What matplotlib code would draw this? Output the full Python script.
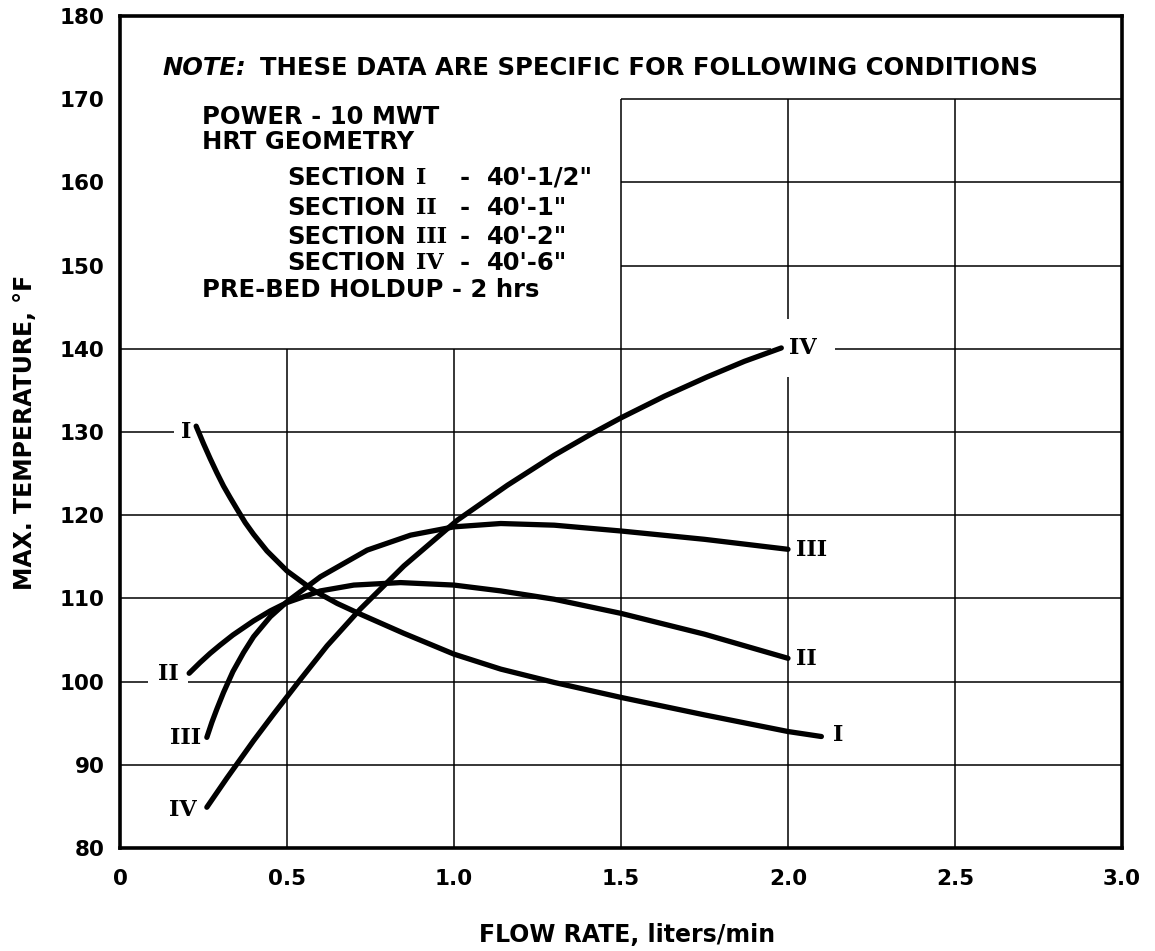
import matplotlib.pyplot as plt

# Max. temperature (deg F) vs flow rate (liters/min) for each bed section
flow_I = [0.228, 0.25, 0.27, 0.29, 0.31, 0.33, 0.35, 0.375, 0.40, 0.44, 0.50, 0.578, 0.65, 0.72,
          0.85, 1.00, 1.14, 1.30, 1.50, 1.75, 2.00, 2.10]
temp_I = [130.7, 128.6, 126.8, 125.1, 123.5, 122.1, 120.75, 119.1, 117.7, 115.7, 113.3, 111.0,
          109.4, 108.1, 105.8, 103.3, 101.5, 99.9, 98.1, 96.0, 94.0, 93.4]

flow_II = [0.207, 0.24, 0.27, 0.30, 0.338, 0.40, 0.45, 0.50, 0.60, 0.70, 0.84, 1.00, 1.14, 1.30,
           1.50, 1.75, 2.00]
temp_II = [101.0, 102.3, 103.4, 104.4, 105.6, 107.3, 108.5, 109.5, 110.9, 111.6, 111.9, 111.6,
           110.9, 109.9, 108.2, 105.7, 102.8]

flow_III = [0.26, 0.275, 0.29, 0.31, 0.338, 0.37, 0.40, 0.45, 0.50, 0.60, 0.74, 0.87, 1.00, 1.14,
            1.30, 1.50, 1.75, 2.00]
temp_III = [93.3, 95.1, 96.7, 98.7, 101.2, 103.5, 105.4, 107.8, 109.6, 112.6, 115.8, 117.6,
            118.6, 119.0, 118.8, 118.1, 117.1, 115.9]

flow_IV = [0.26, 0.32, 0.40, 0.46, 0.539, 0.62, 0.719, 0.85, 1.01, 1.16, 1.30, 1.417, 1.50, 1.63,
           1.757, 1.87, 1.98]
temp_IV = [84.9, 88.4, 92.9, 96.1, 100.2, 104.3, 108.7, 113.9, 119.4, 123.6, 127.2, 129.9, 131.7,
           134.3, 136.6, 138.5, 140.1]

x_ticks = [0, 0.5, 1.0, 1.5, 2.0, 2.5, 3.0]
x_tick_labels = ['0', '0.5', '1.0', '1.5', '2.0', '2.5', '3.0']
y_ticks = list(range(80, 190, 10))

# curve tags: (text, x, y, bbox pad)
tags = [
    ('I', 0.198, 130.0, 5),
    ('II', 0.144, 100.9, 7),
    ('III', 0.195, 93.2, 3),
    ('IV', 0.189, 84.6, 3),
    ('IV', 2.045, 140.1, 13),
    ('III', 2.07, 115.8, 3),
    ('II', 2.056, 102.7, 3),
    ('I', 2.15, 93.6, 3),
]

ROMAN = dict(family='DejaVu Serif', weight='bold', fontsize=16)
LETTER = dict(family='DejaVu Sans', weight='bold')

fig = plt.figure(figsize=(11.55, 9.51), dpi=100)
ax = fig.add_axes([0.1039, 0.1083, 0.8675, 0.8749])
ax.set_xlim(0, 3.0)
ax.set_ylim(80, 180)

# grid, left clear where the note sits
grid_kw = dict(color='black', lw=1.1, zorder=1)
ax.vlines([0.5, 1.0], 80, 140, **grid_kw)
ax.vlines([1.5, 2.0, 2.5], 80, 170, **grid_kw)
ax.hlines(range(90, 150, 10), 0, 3.0, **grid_kw)
ax.hlines([150, 160, 170], 1.5, 3.0, **grid_kw)

for fl, tp in [(flow_I, temp_I), (flow_II, temp_II), (flow_III, temp_III), (flow_IV, temp_IV)]:
    ax.plot(fl, tp, color='black', lw=3.8, solid_capstyle='round',
            solid_joinstyle='round', zorder=3)

for txt, x, y, pad in tags:
    ax.text(x, y, txt, ha='center', va='center', zorder=2,
            bbox=dict(facecolor='white', edgecolor='none', pad=pad), **ROMAN)

for s in ax.spines.values():
    s.set_linewidth(2.6)

ax.set_xticks(x_ticks)
ax.set_xticklabels(x_tick_labels)
ax.set_yticks(y_ticks)
ax.tick_params(length=0, labelsize=15.5)
ax.tick_params(axis='x', pad=15)
ax.tick_params(axis='y', pad=11)
for lbl in ax.get_xticklabels() + ax.get_yticklabels():
    lbl.set_fontweight('bold')

ax.set_xlabel('FLOW RATE, liters/min', fontsize=17, va='center', **LETTER)
ax.xaxis.set_label_coords(0.506, -0.1046)
ax.set_ylabel('MAX. TEMPERATURE, °F', fontsize=17, va='center', **LETTER)
ax.yaxis.set_label_coords(-0.0948, 0.5)

# note block
note_fs = 17.5
ax.text(0.126, 173.75, 'NOTE:', style='italic', fontsize=note_fs, va='center', **LETTER)
ax.text(0.419, 173.75, 'THESE DATA ARE SPECIFIC FOR FOLLOWING CONDITIONS',
        fontsize=note_fs, va='center', **LETTER)
ax.text(0.2455, 167.86, 'POWER - 10 MWT', fontsize=note_fs, va='center', **LETTER)
ax.text(0.2455, 164.83, 'HRT GEOMETRY', fontsize=note_fs, va='center', **LETTER)

sections = [('I', '40\'-1/2"', 160.53), ('II', '40\'-1"', 156.92),
            ('III', '40\'-2"', 153.44), ('IV', '40\'-6"', 150.31)]
for num, size, y in sections:
    ax.text(0.5, y, 'SECTION', fontsize=note_fs, va='center', **LETTER)
    ax.text(0.886, y, num, ha='left', va='center', **ROMAN)
    ax.text(1.033, y, '-', ha='center', fontsize=note_fs, va='center', **LETTER)
    ax.text(1.099, y, size, fontsize=note_fs, va='center', **LETTER)

ax.text(0.2455, 147.07, 'PRE-BED HOLDUP - 2 hrs', fontsize=note_fs, va='center', **LETTER)

fig.savefig('out.png', dpi=100)
